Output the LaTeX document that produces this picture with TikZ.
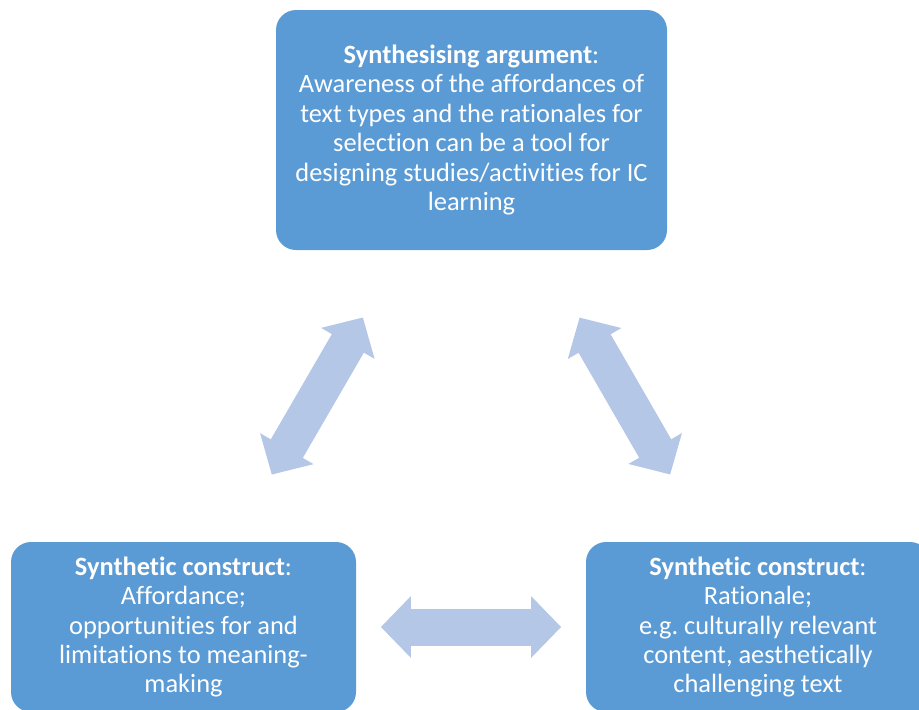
\documentclass[tikz,border=0pt]{standalone}
\usepackage{fontspec}
\setmainfont{Carlito}[Ligatures=NoCommon]
\usetikzlibrary{arrows.meta}
\definecolor{boxblue}{HTML}{5B9BD5}
\definecolor{arrowblue}{HTML}{B4C7E7}
\tikzset{
	claim/.style={fill=boxblue, text=white, rounded corners=10pt, align=center, inner sep=0pt, font=\fontsize{13.2}{14.7}\selectfont},
	dblarrow/.style={arrowblue, line width=18.5pt, {Triangle[length=15pt,width=30pt]}-{Triangle[length=15pt,width=30pt]}}
}
\frenchspacing
\begin{document}
\begin{tikzpicture}[x=0.5pt, y=-0.5pt]
			%%%%% START %%%%%
			
			\useasboundingbox (0, 0) rectangle (919, 709);
			
			\node[claim, minimum width=195.5pt, minimum height=120pt] (argument) at (471.5, 130)
				{\textbf{Synthesising argument}:\\Awareness of the affordances of\\text types and the rationales for\\selection can be a tool for\\designing studies/activities for IC\\learning};
			
			\node[claim, minimum width=172.5pt, minimum height=85pt] (affordance) at (183.5, 627)
				{\textbf{Synthetic construct}:\\Affordance;\\opportunities for and\\limitations to meaning-\\making};
			
			\node[claim, minimum width=172pt, minimum height=85pt] (rationale) at (758, 627)
				{\textbf{Synthetic construct}:\\Rationale;\\e.g. culturally relevant\\content, aesthetically\\challenging text};
			
			\draw[dblarrow, shorten <=38.75pt, shorten >=38.75pt] (argument) -- (affordance);
			\draw[dblarrow, shorten <=38.75pt, shorten >=38.75pt] (argument) -- (rationale);
			\draw[dblarrow, shorten <=12.25pt, shorten >=12.25pt] (affordance) -- (rationale);
			
			%%%%% END %%%%%
\end{tikzpicture}
\end{document}
